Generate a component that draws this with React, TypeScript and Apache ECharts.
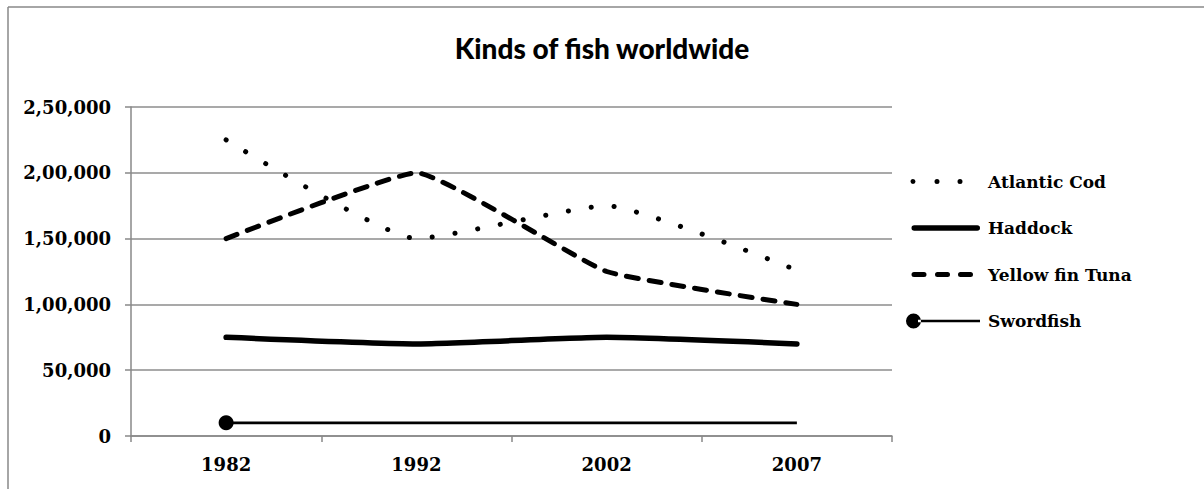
import React, { useEffect, useRef } from "react";
import * as echarts from "echarts";

const categories = ["1982", "1992", "2002", "2007"];
const atlanticCod = [225000, 150000, 175000, 126000];
const haddock = [75000, 70000, 75000, 70000];
const yellowFinTuna = [150000, 200000, 125000, 100000];
const swordfish = [10000, 10000, 10000, 10000];
const seriesNames = ["Atlantic Cod", "Haddock", "Yellow fin Tuna", "Swordfish"];
const titleText = "Kinds of fish worldwide";

function fmt(v: number): string {
  // Indian-style grouping as in the reference (2,50,000)
  const s = String(Math.round(v));
  if (s.length <= 3) return s;
  const last3 = s.slice(-3);
  let rest = s.slice(0, -3);
  const parts: string[] = [];
  while (rest.length > 2) {
    parts.unshift(rest.slice(-2));
    rest = rest.slice(0, -2);
  }
  if (rest) parts.unshift(rest);
  return parts.join(",") + "," + last3;
}

const circ = (cx: number, cy: number, r: number) =>
  `M${cx - r} ${cy} A${r} ${r} 0 1 0 ${cx + r} ${cy} A${r} ${r} 0 1 0 ${cx - r} ${cy} Z `;
const rrect = (x0: number, x1: number, cy: number, h: number) => {
  const r = h / 2;
  return `M${x0 + r} ${cy - r} L${x1 - r} ${cy - r} A${r} ${r} 0 0 1 ${x1 - r} ${cy + r} L${x0 + r} ${cy + r} A${r} ${r} 0 0 1 ${x0 + r} ${cy - r} Z `;
};
const box = "M0 0 M77 16 ";
const iconCod = "path://" + box + circ(7, 8, 2.5) + circ(31, 8, 2.5) + circ(54, 8, 2.5);
const iconHaddock = "path://" + box + rrect(5.5, 74, 8, 5.5);
const iconTuna = "path://" + box + rrect(5.5, 20.5, 8, 5) + rrect(29, 44, 8, 5) + rrect(52, 67, 8, 5);
const iconSword =
  "path://" + box + circ(7.5, 8, 7.5) + `M12 6.7 L74 6.7 L74 9.3 L12 9.3 Z`;

export default function App() {
  const ref = useRef<HTMLDivElement>(null);
  useEffect(() => {
    if (!ref.current) return;
    const chart = echarts.init(ref.current, undefined, { renderer: "svg" });
    const serif = "DejaVu Serif";
    chart.setOption({
      animation: false,
      backgroundColor: "#ffffff",
      title: {
        text: titleText,
        left: "center",
        top: 29,
        textStyle: { fontFamily: "Lato", fontWeight: 900, fontSize: 28, color: "#000" },
      },
      graphic: [
        { type: "line", shape: { x1: 8, y1: 7, x2: 1204, y2: 7 }, style: { stroke: "#888", lineWidth: 1.5 } },
        { type: "line", shape: { x1: 8, y1: 7, x2: 8, y2: 489 }, style: { stroke: "#888", lineWidth: 1.5 } },
      ],
      legend: {
        orient: "vertical",
        left: 901,
        top: 168,
        itemWidth: 77,
        itemHeight: 16,
        itemGap: 29.5,
        textStyle: { fontFamily: serif, fontWeight: "bold", fontSize: 17, color: "#000", lineHeight: 16 },
        data: [
          { name: seriesNames[0], icon: iconCod },
          { name: seriesNames[1], icon: iconHaddock },
          { name: seriesNames[2], icon: iconTuna },
          { name: seriesNames[3], icon: iconSword },
        ],
      },
      grid: { left: 131, top: 107, right: 312, bottom: 53, containLabel: false },
      xAxis: {
        type: "category",
        data: categories,
        boundaryGap: true,
        axisLine: { lineStyle: { color: "#888", width: 1.5 } },
        axisTick: { show: true, length: 6, lineStyle: { color: "#888", width: 1.5 } },
        axisLabel: { fontFamily: serif, fontWeight: "bold", fontSize: 18, color: "#000", margin: 19 },
      },
      yAxis: {
        type: "value",
        min: 0,
        max: 250000,
        interval: 50000,
        axisLine: { show: true, lineStyle: { color: "#888", width: 1.5 } },
        axisTick: { show: true, length: 6, lineStyle: { color: "#888", width: 1.5 } },
        splitLine: { lineStyle: { color: "#8c8c8c", width: 1.5 } },
        axisLabel: {
          fontFamily: serif,
          fontWeight: "bold",
          fontSize: 18,
          color: "#000",
          margin: 20,
          formatter: (v: number) => fmt(v),
        },
      },
      series: [
        {
          name: seriesNames[0],
          type: "line",
          data: atlanticCod,
          symbol: "none",
          smooth: 0.15,
          color: "#000",
          lineStyle: { color: "#000", width: 5, type: [0.1, 23], cap: "round" },
        },
        {
          name: seriesNames[1],
          type: "line",
          data: haddock,
          symbol: "none",
          smooth: 0.15,
          color: "#000",
          lineStyle: { color: "#000", width: 5.5, cap: "round" },
        },
        {
          name: seriesNames[2],
          type: "line",
          data: yellowFinTuna,
          symbol: "none",
          smooth: 0.12,
          color: "#000",
          lineStyle: { color: "#000", width: 5, type: [12, 11], cap: "round" },
        },
        {
          name: seriesNames[3],
          type: "line",
          data: swordfish.map((v, i) =>
            i === 0 ? { value: v } : { value: v, symbol: "none" }
          ),
          symbol: "circle",
          symbolSize: 15,
          showSymbol: true,
          color: "#000",
          itemStyle: { color: "#000" },
          lineStyle: { color: "#000", width: 2.75 },
        },
      ],
    });
    return () => chart.dispose();
  }, []);
  return (
    <div
      ref={ref}
      style={{ position: "absolute", left: 0, top: 0, width: 1204, height: 489 }}
    />
  );
}
